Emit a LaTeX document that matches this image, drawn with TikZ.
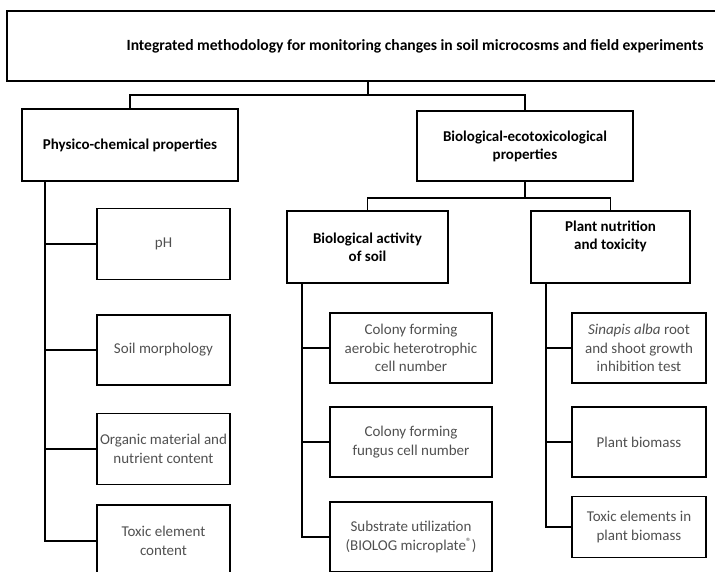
\documentclass[tikz,border=0pt]{standalone}
\usepackage{fontspec}
\setmainfont{Carlito}
\usetikzlibrary{positioning}
\definecolor{itemgray}{RGB}{80,80,80}
\tikzset{
  topbox/.style={draw,rectangle,line width=1.7pt,align=center,inner sep=2pt,
    font=\bfseries\fontsize{15}{18}\selectfont},
  catbox/.style={topbox,minimum height=72pt},
  itembox/.style={draw,rectangle,line width=1.7pt,align=center,inner sep=2pt,
    text=itemgray,minimum height=70pt,font=\fontsize{15}{18.5}\selectfont},
  link/.style={line width=1.7pt}
}

\begin{document}
\begin{tikzpicture}[x=1pt,y=-1pt]
        % The page is the 715 x 571 frame; the top box runs past its right edge.
        \clip (0,0) rectangle (715,571);
        \node[topbox,minimum width=816pt,minimum height=70pt,font=\bfseries\fontsize{15.6}{18}\selectfont] (top) at (415,46)
          {Integrated methodology for monitoring changes in soil microcosms and field experiments};
        \node[catbox,minimum width=216pt] (pcp) at (130,145) {Physico-chemical properties};
        \node[catbox,minimum width=216pt,minimum height=70pt] (bio) at (525,146)
          {Biological-ecotoxicological\\properties};
        \node[catbox,minimum width=161pt] (act) at (367.5,247) {Biological activity\\of soil};
        \node[catbox,minimum width=159pt] (plant) at (610.5,247) {Plant nutrition\\and toxicity\\[5pt]};
        \node[itembox,minimum width=133pt,minimum height=71pt] (ph) at (163.5,244) {pH};
        \node[itembox,minimum width=133pt] (soil) at (163.5,350) {Soil morphology};
        \node[itembox,minimum width=133pt,minimum height=71pt] (org) at (163.5,449)
          {Organic material and\\nutrient content};
        \node[itembox,minimum width=133pt,minimum height=72pt] (tox) at (163.5,541)
          {Toxic element\\content};
        \node[itembox,minimum width=162pt] (cf1) at (411,348)
          {Colony forming\\aerobic heterotrophic\\cell number};
        \node[itembox,minimum width=162pt] (cf2) at (411,442) {Colony forming\\fungus cell number};
        \node[itembox,minimum width=162pt] (sub) at (411,537)
          {Substrate utilization\\(BIOLOG microplate\textsuperscript{\textregistered})};
        \node[itembox,minimum width=134pt] (sin) at (639,348)
          {\textit{Sinapis alba} root\\and shoot growth\\inhibition test};
        \node[itembox,minimum width=134pt] (pb) at (639,442) {Plant biomass};
        \node[itembox,minimum width=134pt,minimum height=61pt] (tel) at (639,527)
          {Toxic elements in\\plant biomass};
        \coordinate (j0) at (368,95);
        \draw[link] (top.south -| j0) -- (j0);
        \draw[link] (pcp.north) |- (j0) -| (bio.north);
        \draw[link] (bio.south) -- ++(0,16) coordinate (j1);
        \draw[link] (act.north) |- (j1) -| (plant.north);
        \coordinate (sp1) at ([xshift=24pt]pcp.south west);
        \coordinate (sp2) at ([xshift=16pt]act.south west);
        \coordinate (sp3) at ([xshift=16pt]plant.south west);
        \draw[link] (sp1) |- (tox.west);
        \draw[link] (sp2) |- (sub.west);
        \draw[link] (sp3) |- (tel.west);
        \foreach \b in {ph,soil,org} \draw[link] (\b.west) -- (\b.west -| sp1);
        \foreach \b in {cf1,cf2} \draw[link] (\b.west) -- (\b.west -| sp2);
        \foreach \b in {sin,pb} \draw[link] (\b.west) -- (\b.west -| sp3);
      \end{tikzpicture}
\end{document}
